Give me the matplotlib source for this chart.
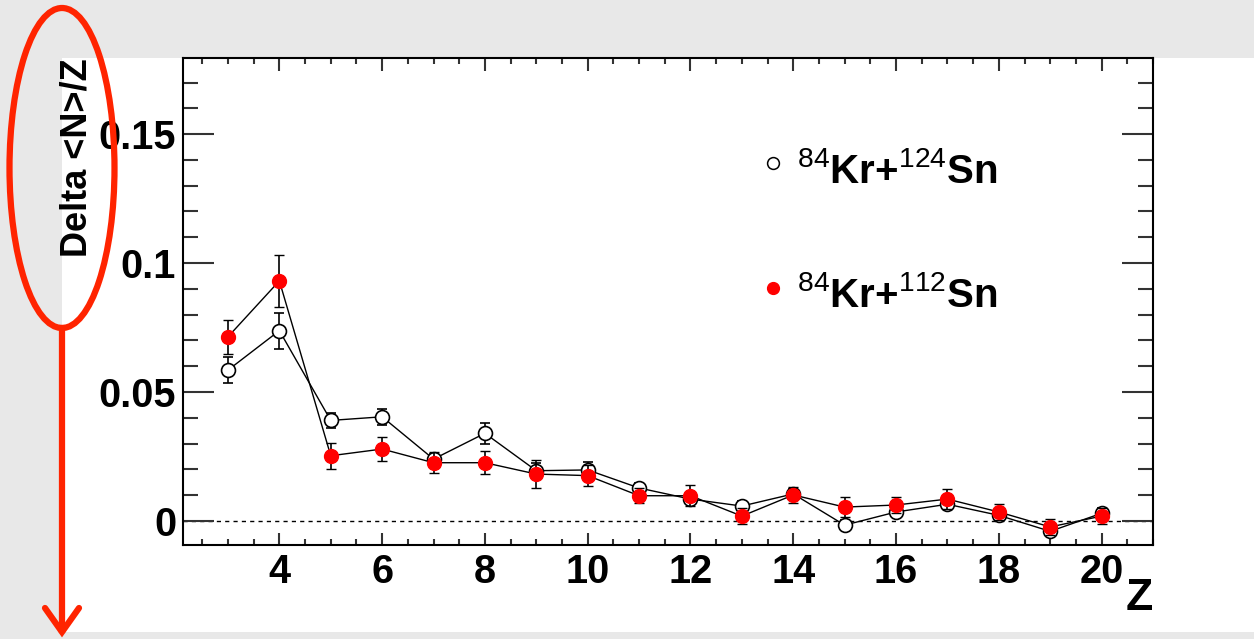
import matplotlib
matplotlib.use("Agg")
import matplotlib.pyplot as plt
from matplotlib.patches import Ellipse, Rectangle
from matplotlib.lines import Line2D
from matplotlib.ticker import MultipleLocator, FixedLocator, FixedFormatter

# ---------------- data ----------------
Z = [3, 4, 5, 6, 7, 8, 9, 10, 11, 12, 13, 14, 15, 16, 17, 18, 19, 20]
y_kr124 = [0.0585, 0.0738, 0.0390, 0.0404, 0.0240, 0.0340, 0.0195, 0.0198, 0.0128,
           0.0085, 0.0058, 0.0105, -0.0016, 0.0035, 0.0065, 0.0022, -0.0040, 0.0030]
e_kr124 = [0.005, 0.007, 0.003, 0.003, 0.002, 0.004, 0.003, 0.003, 0.002,
           0.002, 0.002, 0.002, 0.002, 0.002, 0.002, 0.002, 0.002, 0.002]
y_kr112 = [0.0714, 0.0931, 0.0253, 0.0279, 0.0226, 0.0226, 0.0182, 0.0176, 0.0098,
           0.0098, 0.0019, 0.0101, 0.0054, 0.0062, 0.0085, 0.0035, -0.0023, 0.0019]
e_kr112 = [0.0065, 0.010, 0.005, 0.0045, 0.004, 0.0045, 0.0055, 0.004, 0.003,
           0.004, 0.003, 0.003, 0.004, 0.003, 0.004, 0.003, 0.003, 0.003]

x_ticks = [4, 6, 8, 10, 12, 14, 16, 18, 20]
x_tick_labels = ["4", "6", "8", "10", "12", "14", "16", "18", "20"]
y_ticks = [0.0, 0.05, 0.10, 0.15]
y_tick_labels = ["0", "0.05", "0.1", "0.15"]

label_124 = r"$\mathrm{{}^{84}}\mathbf{Kr{+}}\mathrm{{}^{124}}\mathbf{Sn}$"
label_112 = r"$\mathrm{{}^{84}}\mathbf{Kr{+}}\mathrm{{}^{112}}\mathbf{Sn}$"
y_label = "Delta <N>/Z"
x_label = "Z"

# ---------------- style ----------------
plt.rcParams["font.family"] = ["Liberation Sans", "DejaVu Sans"]
plt.rcParams["mathtext.fontset"] = "custom"
plt.rcParams["mathtext.rm"] = "Liberation Sans"
plt.rcParams["mathtext.bf"] = "Liberation Sans:bold"

W, H = 1254, 639
fig = plt.figure(figsize=(W / 100, H / 100), dpi=100)
fig.patch.set_facecolor("#e8e8e8")

def fx(px):
    return px / W

def fy(py):
    return 1 - py / H

# white panel
fig.patches.append(Rectangle((fx(62), fy(632)), fx(1254) - fx(62), fy(58) - fy(632),
                             transform=fig.transFigure, facecolor="white",
                             edgecolor="none", zorder=-5))

ax = fig.add_axes([fx(183), fy(545), fx(1153) - fx(183), fy(58) - fy(545)])
ax.set_zorder(1)
ax.set_facecolor("white")
ax.set_xlim(2.125, 21.0)
ax.set_ylim(-0.0093, 0.1795)

ax.axhline(0, color="black", lw=1.0, ls=(0, (3, 3)), zorder=1)

ax.errorbar(Z, y_kr124, yerr=e_kr124, fmt="o-", color="black", lw=1.0,
            ms=10, mfc="white", mec="black", mew=1.2, elinewidth=1.2,
            capsize=3.5, capthick=1.2, zorder=3)
ax.errorbar(Z, y_kr112, yerr=e_kr112, fmt="o-", color="black", lw=1.0,
            ms=10, mfc="red", mec="red", mew=1.0, elinewidth=1.2,
            capsize=3.5, capthick=1.2, zorder=4)

# axes styling (ROOT-like ticks on all sides, inward)
for s in ax.spines.values():
    s.set_linewidth(1.5)
ax.xaxis.set_major_locator(FixedLocator(x_ticks))
ax.xaxis.set_major_formatter(FixedFormatter(x_tick_labels))
ax.xaxis.set_minor_locator(MultipleLocator(0.5))
ax.yaxis.set_major_locator(FixedLocator(y_ticks))
ax.yaxis.set_major_formatter(FixedFormatter(y_tick_labels))
ax.yaxis.set_minor_locator(MultipleLocator(0.01))
ax.tick_params(which="both", direction="in", top=True, right=True, width=1.5,
               color="#333333")
ax.tick_params(axis="x", which="major", length=9, pad=6)
ax.tick_params(axis="x", which="minor", length=4.5)
ax.tick_params(axis="y", which="major", length=22, pad=5)
ax.tick_params(axis="y", which="minor", length=11)
for lab in ax.get_xticklabels() + ax.get_yticklabels():
    lab.set_fontsize(28.5)
    lab.set_fontweight("bold")

# legend (manual, ROOT TLegend style)
ax.plot([0.608], [0.784], "o", transform=ax.transAxes, ms=8.5, mfc="white",
        mec="black", mew=1.1, clip_on=False)
ax.plot([0.608], [0.528], "o", transform=ax.transAxes, ms=8.5, mfc="red",
        mec="red", clip_on=False)
ax.text(0.633, 0.743, label_124, transform=ax.transAxes, fontsize=29,
        ha="left", va="baseline")
ax.text(0.633, 0.489, label_112, transform=ax.transAxes, fontsize=29,
        ha="left", va="baseline")

# axis titles
fig.text(fx(77), fy(58), y_label, rotation=90, ha="center", va="top",
         fontsize=26, fontweight="bold", zorder=2)
fig.text(fx(1153), fy(598), x_label, ha="right", va="center",
         fontsize=32, fontweight="bold", zorder=2)

# red annotation: ellipse and arrow
red = "#ff2400"
fig.patches.append(Ellipse((fx(62), fy(168)), fx(105), 320 / H,
                           transform=fig.transFigure, fill=False,
                           edgecolor=red, lw=4.5, zorder=10))
fig.lines.append(Line2D([fx(62), fx(62)], [fy(328), fy(630)],
                        transform=fig.transFigure, color=red, lw=4.5, zorder=10))
fig.lines.append(Line2D([fx(45), fx(62), fx(79)], [fy(608), fy(632), fy(608)],
                        transform=fig.transFigure, color=red, lw=4.5,
                        solid_joinstyle="miter", solid_capstyle="round", zorder=10))

fig.savefig("out.png", dpi=100, facecolor=fig.get_facecolor())
